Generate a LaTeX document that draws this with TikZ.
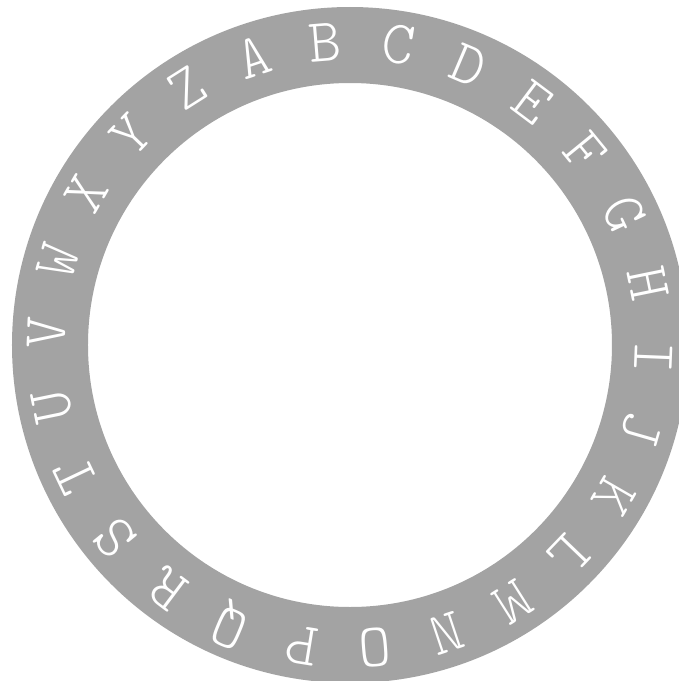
\documentclass[tikz,border=0pt]{standalone}
\usepackage{fontspec}
\usepackage{tikz}
\newfontfamily\lettertt{Latin Modern Mono Light}

\def\outerring{(0,0) circle (6.76cm)}
\def\innerring{(0,0) circle (5.24cm)}
\colorlet{ring area}{black!36}
\colorlet{letter colour}{white}
\tikzset{ring/.style={fill=ring area, even odd rule},
    letter/.style={text=letter colour, font=\fontsize{35}{35}\selectfont\lettertt, inner sep=0pt}}

\begin{document}
\begin{tikzpicture}
        % Frame
        \useasboundingbox (-7,-6.72) rectangle (6.58,6.9);
        \clip (-7,-6.72) rectangle (6.58,6.9);

        % Ring
        \fill[ring] \outerring \innerring;

        % Letters A to Z
        \foreach \l [count=\i from 0] in {A,...,Z} {
            \pgfmathsetmacro{\ang}{108.5 - \i*360/26}
            \node[letter, rotate=\ang-90] (letter-\l) at (\ang:6.08) {\l};
        }
    \end{tikzpicture}
\end{document}
